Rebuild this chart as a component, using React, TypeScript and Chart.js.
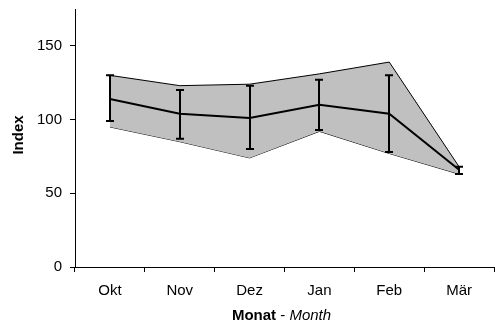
import React, { useEffect, useRef } from "react";
import { Chart, registerables } from "chart.js";

Chart.register(...registerables);

// Monthly index: mean, error bar limits and min/max range
const months = ["Okt", "Nov", "Dez", "Jan", "Feb", "Mär"];
const meanValues = [114, 104, 101, 110, 104, 66];
const errLow = [99, 87, 80, 93, 78, 63];
const errHigh = [130, 120, 123, 127, 130, 68];
const rangeMax = [130, 123, 124, 131, 139, 68];
const rangeMin = [95, 85, 74, 92, 77, 63];
const yTickValues = [0, 50, 100, 150];

const FONT = "'Liberation Sans', Arial, sans-serif";

// Vertical error bars with caps, drawn on top of the datasets
const errorBarPlugin = {
  id: "errorBars",
  afterDatasetsDraw(chart: any) {
    const { ctx, scales } = chart;
    const xs = scales.x;
    const ys = scales.y;
    ctx.save();
    ctx.strokeStyle = "#000";
    ctx.lineWidth = 2;
    const cap = 4;
    for (let i = 0; i < months.length; i++) {
      const x = Math.round(xs.getPixelForValue(i));
      const yLo = ys.getPixelForValue(errLow[i]);
      const yHi = ys.getPixelForValue(errHigh[i]);
      ctx.beginPath();
      ctx.moveTo(x, yLo);
      ctx.lineTo(x, yHi);
      ctx.moveTo(x - cap, yLo);
      ctx.lineTo(x + cap, yLo);
      ctx.moveTo(x - cap, yHi);
      ctx.lineTo(x + cap, yHi);
      ctx.stroke();
    }
    ctx.restore();
  },
};

// Axis titles: "Index" rotated, and "Monat - Month" with mixed styles
const axisTitlePlugin = {
  id: "axisTitles",
  afterDraw(chart: any) {
    const { ctx, chartArea } = chart;
    ctx.save();
    ctx.fillStyle = "#000";
    ctx.textBaseline = "middle";

    // y title
    ctx.save();
    ctx.translate(19, (chartArea.top + chartArea.bottom) / 2 - 3);
    ctx.rotate(-Math.PI / 2);
    ctx.textAlign = "center";
    ctx.font = `bold 15px ${FONT}`;
    ctx.fillText("Index", 0, 0);
    ctx.restore();

    // x title
    const parts = [
      { text: "Monat", font: `bold 15px ${FONT}` },
      { text: " - ", font: `15px ${FONT}` },
      { text: "Month", font: `italic 15px ${FONT}` },
    ];
    let total = 0;
    const widths = parts.map((p) => {
      ctx.font = p.font;
      const w = ctx.measureText(p.text).width;
      total += w;
      return w;
    });
    let x = (chartArea.left + chartArea.right) / 2 - 3 - total / 2;
    const y = 316;
    ctx.textAlign = "left";
    parts.forEach((p, i) => {
      ctx.font = p.font;
      ctx.fillText(p.text, x, y);
      x += widths[i];
    });
    ctx.restore();
  },
};

export default function App() {
  const canvasRef = useRef<HTMLCanvasElement>(null);

  useEffect(() => {
    const canvas = canvasRef.current;
    if (!canvas) return;
    const chart = new Chart(canvas, {
      type: "line",
      data: {
        labels: months,
        datasets: [
          {
            label: "Mittelwert",
            data: meanValues,
            borderColor: "#000",
            borderWidth: 2,
            fill: false,
            pointRadius: 0,
            tension: 0,
            order: 0,
          },
          {
            label: "Max",
            data: rangeMax,
            borderColor: "#000",
            borderWidth: 1,
            backgroundColor: "#c0c0c0",
            fill: "+1",
            pointRadius: 0,
            tension: 0,
            order: 1,
          },
          {
            label: "Min",
            data: rangeMin,
            borderColor: "#000",
            borderWidth: 1,
            backgroundColor: "#c0c0c0",
            fill: false,
            pointRadius: 0,
            tension: 0,
            order: 2,
          },
        ],
      },
      options: {
        responsive: false,
        animation: false,
        devicePixelRatio: 1,
        layout: { padding: { left: 0, right: 1, top: 9, bottom: 0 } },
        plugins: {
          legend: { display: false },
          tooltip: { enabled: false },
        },
        scales: {
          x: {
            type: "category",
            offset: true,
            grid: {
              offset: true,
              drawOnChartArea: false,
              drawTicks: true,
              tickLength: 5,
              color: "#000",
            },
            border: { display: true, color: "#000", width: 1 },
            ticks: {
              color: "#000",
              font: { family: FONT, size: 15 },
              padding: 10,
              maxRotation: 0,
              autoSkip: false,
            },
            afterFit(scale: any) {
              scale.height = 59;
              scale.paddingLeft = 0;
              scale.paddingRight = 0;
            },
          },
          y: {
            min: 0,
            max: 175,
            grid: {
              drawOnChartArea: false,
              drawTicks: true,
              tickLength: 5,
              color: "#000",
            },
            border: { display: true, color: "#000", width: 1 },
            ticks: {
              color: "#000",
              font: { family: FONT, size: 15 },
              padding: 8,
              stepSize: 50,
            },
            afterBuildTicks(scale: any) {
              scale.ticks = yTickValues.map((v) => ({ value: v }));
            },
            afterFit(scale: any) {
              scale.width = 75;
              scale.paddingTop = 0;
              scale.paddingBottom = 0;
            },
          },
        },
      },
      plugins: [errorBarPlugin, axisTitlePlugin],
    });
    return () => chart.destroy();
  }, []);

  return (
    <div style={{ position: "fixed", left: 0, top: 0, width: 495, height: 326, background: "#fff" }}>
      <canvas ref={canvasRef} width={495} height={326} />
    </div>
  );
}
